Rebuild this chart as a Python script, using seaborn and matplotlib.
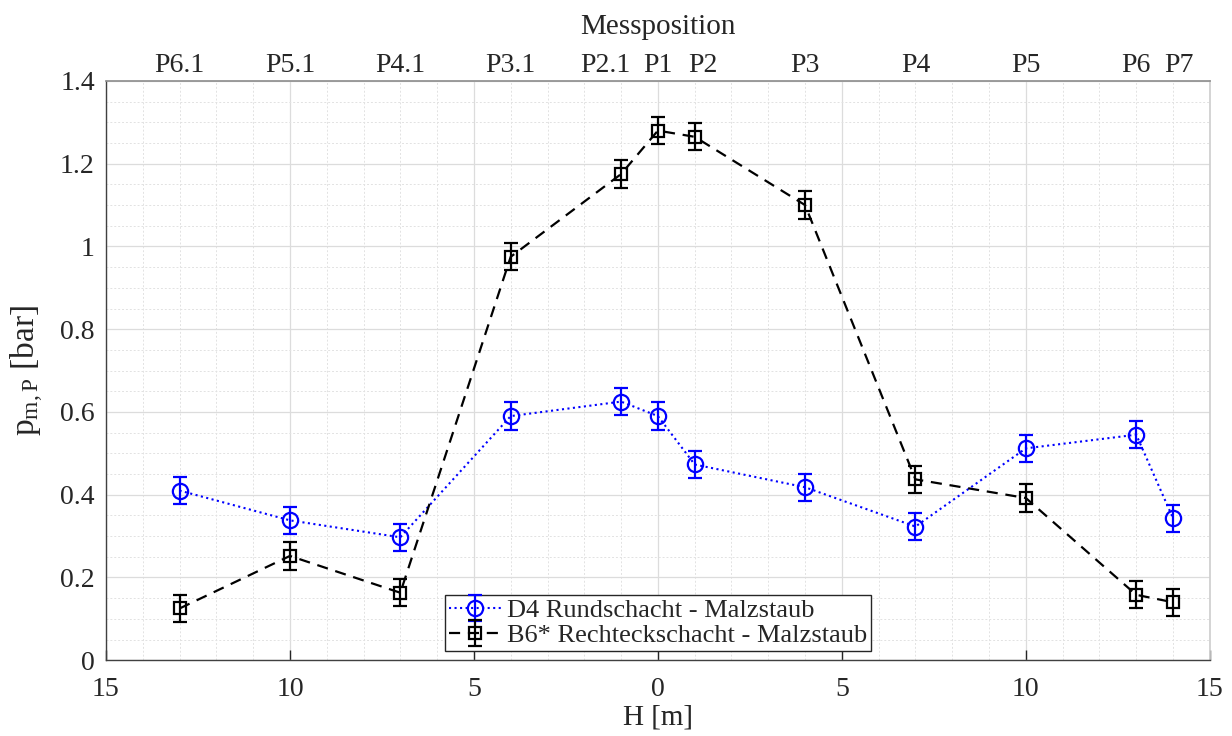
import numpy as np
import matplotlib
matplotlib.use("Agg")
import matplotlib.pyplot as plt
import matplotlib.transforms as mtransforms
import seaborn as sns
import pandas as pd
from matplotlib.ticker import MultipleLocator, FuncFormatter
from matplotlib.legend_handler import HandlerTuple

H = [-13, -10, -7, -4, -1, 0, 1, 4, 7, 10, 13, 14]
pos_labels = ["P6.1", "P5.1", "P4.1", "P3.1", "P2.1", "P1", "P2", "P3", "P4", "P5", "P6", "P7"]
d4 = [0.41, 0.338, 0.297, 0.59, 0.625, 0.59, 0.473, 0.418, 0.323, 0.512, 0.545, 0.343]
b6 = [0.125, 0.252, 0.163, 0.975, 1.175, 1.28, 1.265, 1.10, 0.437, 0.392, 0.158, 0.14]
d4_err = [0.033] * 12
b6_err = [0.033] * 12

sns.set_theme(style="white")
plt.rcParams['font.family'] = ['Liberation Serif', 'DejaVu Serif']
plt.rcParams['mathtext.fontset'] = 'custom'
plt.rcParams['mathtext.rm'] = 'Liberation Serif'
plt.rcParams['mathtext.it'] = 'Liberation Serif:italic'

fig, ax = plt.subplots(figsize=(12.32, 7.36), dpi=100)
fig.subplots_adjust(left=0.086, right=0.982, top=0.89, bottom=0.103)

df = pd.DataFrame({"H": H, "d4": d4, "b6": b6})
sns.lineplot(data=df, x="H", y="d4", ax=ax, color="#0000ff", linestyle=":", linewidth=1.5,
             marker="o", markersize=11, markerfacecolor="none", markeredgecolor="#0000ff",
             markeredgewidth=1.6, legend=False)
sns.lineplot(data=df, x="H", y="b6", ax=ax, color="black", linestyle=(0, (5, 3.5)), linewidth=1.6,
             marker="s", markersize=8, markerfacecolor="none", markeredgecolor="black",
             markeredgewidth=1.6, legend=False)
l1, l2 = ax.get_lines()[0], ax.get_lines()[1]
e1 = ax.errorbar(H, d4, yerr=d4_err, fmt="none", ecolor="#0000ff", elinewidth=1.6, capsize=5, capthick=1.6)
e2 = ax.errorbar(H, b6, yerr=b6_err, fmt="none", ecolor="black", elinewidth=1.6, capsize=5, capthick=1.6)

ax.set_xlim(-15, 15)
ax.set_ylim(0, 1.4)
ax.xaxis.set_major_locator(MultipleLocator(5))
ax.xaxis.set_minor_locator(MultipleLocator(1))
ax.yaxis.set_major_locator(MultipleLocator(0.2))
ax.yaxis.set_minor_locator(MultipleLocator(0.05))
ax.xaxis.set_major_formatter(FuncFormatter(lambda v, p: f"{abs(v):g}"))
ax.yaxis.set_major_formatter(FuncFormatter(lambda v, p: f"{v:g}"))
ax.grid(True, which="major", color="#dcdcdc", linewidth=0.9)
ax.grid(True, which="minor", color="#e2e2e2", linewidth=0.7, linestyle=(0, (2, 2)))
ax.set_axisbelow(True)
ax.tick_params(axis="both", which="major", labelsize=20, direction="in", length=7, width=1,
               colors="#262626", labelcolor="#262626")
ax.tick_params(axis="x", which="major", pad=12)
ax.tick_params(axis="y", which="major", pad=8)
ax.tick_params(axis="both", which="minor", length=0)
ax.set_xlabel("H [m]", fontsize=21, color="#262626", labelpad=2)
ax.set_ylabel(r"p$_{\mathrm{m,P}}$ [bar]", fontsize=24, color="#262626", labelpad=10)
for s in ["left", "bottom"]:
    ax.spines[s].set_color("#404040")
    ax.spines[s].set_linewidth(1.0)
ax.spines["right"].set_color("#cfcfcf")
ax.spines["top"].set_color("#909090")

ax2 = ax.twiny()
ax2.set_xlim(ax.get_xlim())
ax2.set_xticks(H)
ax2.set_xticklabels(pos_labels)
ax2.tick_params(axis="x", labelsize=20, length=0, colors="#262626", pad=2)
ax2.set_xlabel("Messposition", fontsize=21, color="#262626", labelpad=14)
for s in ax2.spines.values():
    s.set_visible(False)
label_shift = {"P2.1": -16, "P2": 8, "P7": 6}
for t in ax2.get_xticklabels():
    dx = label_shift.get(t.get_text(), 0)
    if dx:
        t.set_transform(t.get_transform() + mtransforms.ScaledTranslation(dx / 100, 0, fig.dpi_scale_trans))

leg = ax.legend([(l1, e1), (l2, e2)],
                ["D4 Rundschacht - Malzstaub", "B6* Rechteckschacht - Malzstaub"],
                handler_map={tuple: HandlerTuple(ndivide=1)},
                loc="lower left", bbox_to_anchor=(0.3, 0.002), fontsize=19, frameon=True,
                fancybox=False, edgecolor="#262626", framealpha=1, borderpad=0.15,
                handlelength=2.0, handletextpad=0.2, labelspacing=0.05, borderaxespad=0.3)
leg.get_frame().set_linewidth(1.0)

fig.savefig("out.png", dpi=100)
